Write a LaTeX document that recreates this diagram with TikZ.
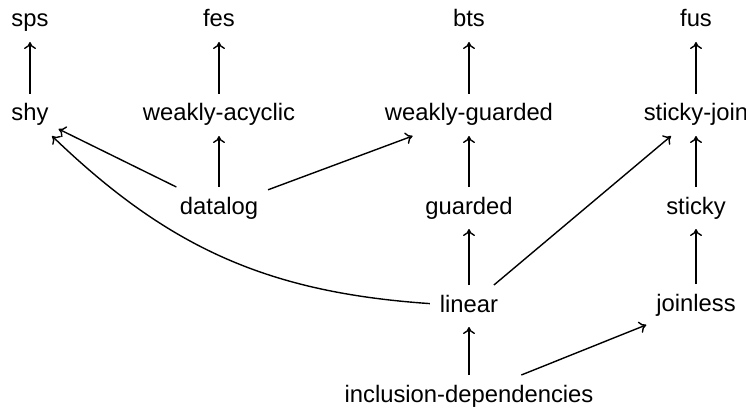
\documentclass[tikz,border=0pt]{standalone}
\usepackage{fontspec}
\setmainfont{Liberation Sans}
\usetikzlibrary{arrows.meta}
\tikzset{
  cls/.style={font=\fontsize{23.8}{28}\selectfont, text height=17pt, text depth=5pt,
    inner sep=0pt, outer sep=10pt, anchor=base},
  incl/.style={-{To[length=7pt,width=12pt]}, line width=1.4pt}
}
\begin{document}
\begin{tikzpicture}[x=1pt,y=-1pt]
\useasboundingbox (0,0) rectangle (746,409);
% top row: decidability classes
\node[cls] (sps) at (30,27) {sps};
\node[cls] (fes) at (219,27) {fes};
\node[cls] (bts) at (469,27) {bts};
\node[cls] (fus) at (696,27) {fus};
% second row
\node[cls] (shy) at (30,121) {shy};
\node[cls] (wa) at (219,121) {weakly-acyclic};
\node[cls] (wg) at (469,121) {weakly-guarded};
\node[cls] (sj) at (696,121) {sticky-join};
% third row
\node[cls] (dl) at (219,214) {datalog};
\node[cls] (gd) at (469,214) {guarded};
\node[cls] (st) at (696,214) {sticky};
% fourth row
\node[cls] (lin) at (469,312) {linear};
\node[cls] (jl) at (696,311) {joinless};
% bottom
\node[cls] (id) at (469,402) {inclusion-dependencies};
% inclusions
\draw[incl] (shy) -- (sps);
\draw[incl] (wa) -- (fes);
\draw[incl] (wg) -- (bts);
\draw[incl] (sj) -- (fus);
\draw[incl] (dl) -- (shy);
\draw[incl] (dl) -- (wa);
\draw[incl] (dl) -- (wg);
\draw[incl] (gd) -- (wg);
\draw[incl] (lin) -- (gd);
\draw[incl] (lin) -- (sj);
\draw[incl] (lin) to[bend left=20] (shy);
\draw[incl] (st) -- (sj);
\draw[incl] (jl) -- (st);
\draw[incl] (id) -- (lin);
\draw[incl] (id) -- (jl);
\end{tikzpicture}
\end{document}
